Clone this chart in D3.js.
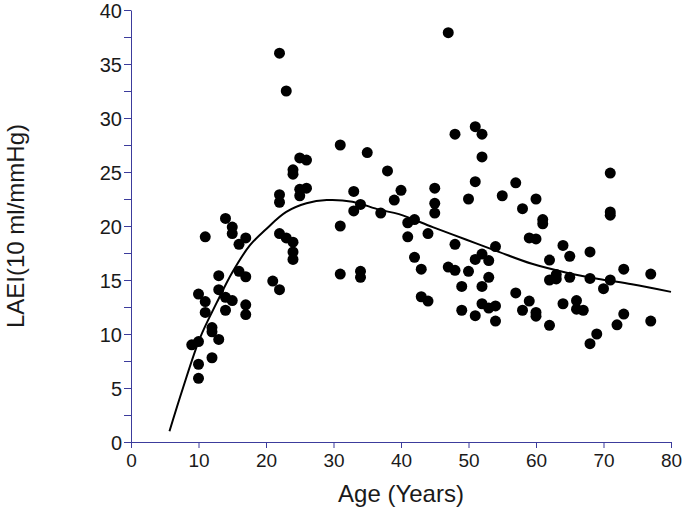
<!DOCTYPE html>
<html><head><meta charset="utf-8">
<script src="https://cdn.jsdelivr.net/npm/d3@7"></script>
<style>
html,body{margin:0;padding:0;background:#fff;}
svg{display:block;}
</style></head>
<body>
<script>
const ages = [9,10,10,10,10,11,11,11,12,12,12,13,13,13,14,14,14,15,15,15,16,16,17,17,17,17,
  21,22,22,22,22,22,23,23,24,24,24,24,24,25,25,25,26,26,31,31,31,33,33,34,34,34,35,37,38,39,40,
  41,41,42,42,43,43,44,44,45,45,45,47,47,48,48,48,49,49,50,50,51,51,51,51,52,52,52,52,52,53,53,53,
  54,54,54,55,57,57,58,58,59,59,60,60,60,60,61,61,62,62,62,63,63,64,64,65,65,66,66,67,68,68,68,69,70,
  71,71,71,71,72,73,73,77,77];
const laei = [9.0,9.3,13.7,7.2,5.9,19.0,13.0,12.0,10.6,10.2,7.8,15.4,14.1,9.5,20.7,13.4,12.2,19.9,19.3,13.1,18.3,15.8,18.9,15.3,12.7,11.8,
  14.9,14.1,36.0,22.9,22.2,19.3,32.5,18.9,25.2,24.8,18.5,17.6,16.9,26.3,23.4,22.8,26.1,23.5,27.5,20.0,15.55,23.2,21.4,22.0,15.8,15.25,26.8,21.2,25.1,22.4,23.3,
  20.3,19.0,20.6,17.1,16.0,13.45,19.3,13.05,23.5,22.1,21.2,37.9,16.2,28.5,18.3,15.9,14.4,12.2,22.5,15.8,29.2,24.1,16.9,11.7,28.5,26.4,17.4,14.4,12.8,16.8,15.25,12.4,
  18.1,12.6,11.2,22.8,24.0,13.8,21.6,12.2,18.9,13.05,22.5,18.8,12.0,11.65,20.6,20.2,16.85,15.0,10.8,15.5,15.1,18.2,12.8,17.2,15.25,13.1,12.3,12.2,17.6,15.15,9.1,10.0,14.2,
  24.9,21.3,21.0,15.0,10.85,16.0,11.85,15.55,11.2];
const fitAges = [5.7,7.7,10.2,12.7,15.1,17.6,20,23,26,29,32.8,36.8,39.7,44.7,49.6,54.5,59.4,64.4,69.3,74.2,80];
const fitVals = [1.0,5.0,9.6,12.9,15.8,18.2,19.7,21.3,22.1,22.4,22.25,21.5,21.1,19.9,18.75,17.6,16.5,15.7,15.1,14.6,13.9];
const xTicks = [0,10,20,30,40,50,60,70,80];
const yTicks = [0,5,10,15,20,25,30,35,40];
const yMinor = [2.5,7.5,12.5,17.5,22.5,27.5,32.5,37.5];

const W=682,H=508, m={l:131,t:10,r:11,b:66};
const axisColor="#3c3c9c", textColor="#1a1a1a";
const font="'Liberation Sans',Arial,sans-serif";
const svg=d3.select("body").append("svg").attr("width",W).attr("height",H);
const x=d3.scaleLinear().domain([0,80]).range([m.l,W-m.r]);
const y=d3.scaleLinear().domain([0,40]).range([H-m.b,m.t]);

// axes
const gx=svg.append("g").attr("transform",`translate(0,${y(0)})`)
  .call(d3.axisBottom(x).tickValues(xTicks).tickSize(6).tickPadding(6).tickSizeOuter(0));
const gy=svg.append("g").attr("transform",`translate(${x(0)},0)`)
  .call(d3.axisLeft(y).tickValues(yTicks).tickSize(7).tickPadding(2).tickSizeOuter(0));
svg.append("g").attr("transform",`translate(${x(0)},0)`)
  .call(d3.axisLeft(y).tickValues(yMinor).tickSize(7).tickFormat("").tickSizeOuter(0))
  .select(".domain").remove();
svg.selectAll(".domain,.tick line").attr("stroke",axisColor).attr("stroke-width",1);
gx.selectAll("text").attr("font-family",font).attr("font-size",19).attr("fill",textColor);
gy.selectAll("text").attr("font-family",font).attr("font-size",20).attr("fill",textColor).attr("dy","0.36em");

// points
svg.append("g").selectAll("circle").data(ages.map((a,i)=>[a,laei[i]])).join("circle")
  .attr("cx",d=>x(d[0])).attr("cy",d=>y(d[1])).attr("r",5.5).attr("fill","#000");

// fit curve
const line=d3.line().x(d=>x(d[0])).y(d=>y(d[1])).curve(d3.curveCatmullRom.alpha(0.5));
svg.append("path").datum(fitAges.map((a,i)=>[a,fitVals[i]])).attr("d",line)
  .attr("fill","none").attr("stroke","#000").attr("stroke-width",2);

// titles
svg.append("text").attr("x",x(40)).attr("y",502).attr("text-anchor","middle")
  .attr("font-family",font).attr("font-size",24).attr("fill",textColor)
  .text("Age (Years)");
svg.append("text").attr("transform",`translate(24,${y(20)}) rotate(-90)`).attr("text-anchor","middle")
  .attr("font-family",font).attr("font-size",24).attr("fill",textColor)
  .text("LAEI(10 ml/mmHg)");
</script>
</body></html>
